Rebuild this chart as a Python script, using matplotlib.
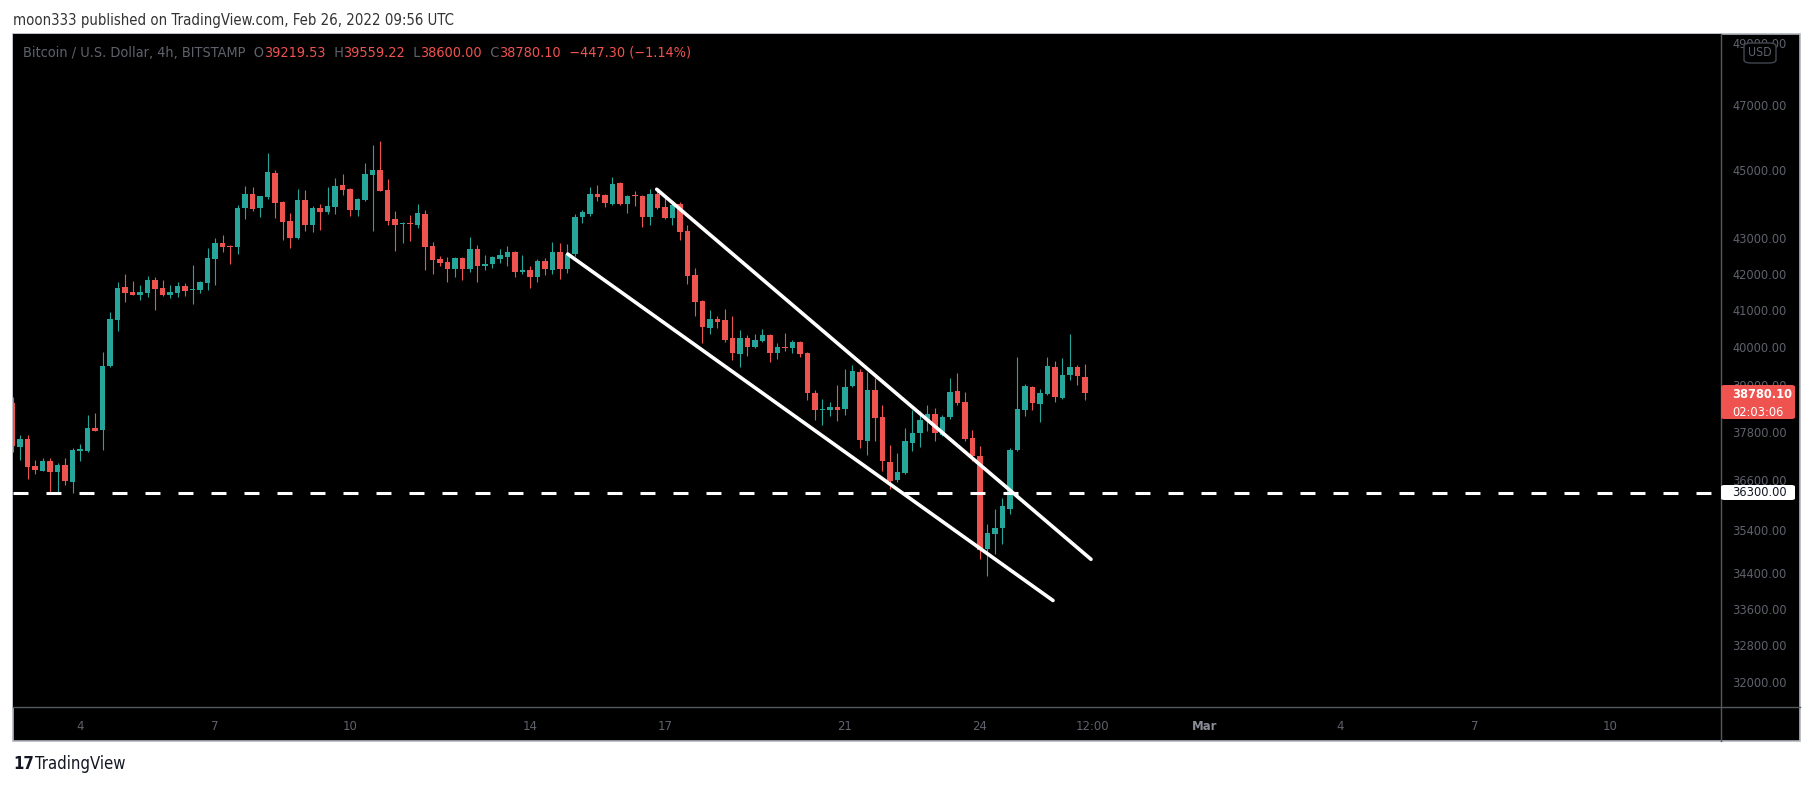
import numpy as np
import pandas as pd
import matplotlib
matplotlib.use('Agg')
import matplotlib.pyplot as plt
import matplotlib.dates as mdates
from matplotlib.patches import Rectangle, FancyBboxPatch
from matplotlib.lines import Line2D
from matplotlib.ticker import NullLocator, FixedLocator
from matplotlib import font_manager

# BTC/USD 4h candles, Feb 2 12:00 .. Feb 26 08:00 (BITSTAMP)
opens = [38535, 37428, 37620, 36950, 36834, 37073, 36809, 36975, 36565, 37320,
         37321, 37898, 37847, 39497, 40727, 41631, 41493, 41410, 41465, 41827,
         41603, 41410, 41465, 41659, 41548, 41548, 41743, 42417, 42871, 42785,
         42757, 43883, 44297, 43883, 44208, 44920, 44061, 43506, 43000, 44120,
         43399, 43883, 43766, 43913, 44563, 44444, 43825, 44120, 44859, 45008,
         44415, 43564, 43420, 43440, 43390, 43708, 42785, 42417, 42331, 42135,
         42445, 42135, 42700, 42219, 42275, 42417, 42474, 42614, 42051, 42107,
         41911, 42360, 42107, 42614, 42135, 42557, 43622, 43708, 44297, 44268,
         44002, 44622, 44002, 44258, 44238, 43622, 44297, 43913, 43593, 44002,
         43216, 41970, 41245, 40511, 40754, 40727, 40240, 39813, 40240, 40000,
         40160, 40322, 39840, 40000, 39973, 40134, 39840, 38793, 38355, 38355,
         38432, 38380, 38973, 39340, 37570, 38870, 38177, 37049, 36606, 36778,
         37520, 37772, 38100, 38253, 37722, 38177, 38844, 38560, 37645, 37197,
         34960, 35312, 35453, 35905, 37346, 38355, 38947, 38509, 38767, 39470,
         38664, 39260, 39470, 39219.53]
highs = [38700, 37720, 37720, 37098, 37148, 37148, 37024, 37148, 37396, 37495,
         38227, 38278, 39867, 40945, 41771, 42000, 41799, 41687, 41940, 41911,
         41827, 41687, 41771, 41743, 42247, 41799, 42728, 43000, 43086, 42814,
         43972, 44533, 44503, 44250, 45522, 45008, 44090, 43738, 44444, 44415,
         43943, 44002, 44503, 44770, 44889, 44460, 44179, 45221, 45766, 45889,
         44740, 43796, 43477, 43680, 44002, 43825, 42900, 42500, 42474, 42474,
         42474, 43029, 42814, 42530, 42500, 42700, 42785, 42630, 42530, 42219,
         42417, 42445, 42900, 42871, 42843, 43708, 43825, 44503, 44563, 44297,
         44800, 44650, 44268, 44385, 44268, 44444, 44415, 44238, 44032, 44061,
         43390, 42163, 41260, 41000, 40837, 41027, 40837, 40457, 40322, 40349,
         40484, 40349, 40107, 40376, 40187, 40160, 39867, 38870, 38637, 38560,
         39000, 39418, 39523, 39418, 39340, 39182, 38483, 37470, 37271, 37897,
         38355, 38330, 38483, 38406, 38227, 39182, 39313, 38818, 37847, 37445,
         35549, 35905, 36170, 37396, 39735, 39025, 38973, 38896, 39735, 39628,
         39708, 40349, 39523, 39559.22]
lows = [37300, 37105, 36638, 36753, 36830, 36322, 36266, 36492, 36298, 37080,
        37296, 37810, 37346, 39480, 40430, 41218, 41400, 41273, 41355, 41000,
        41383, 41328, 41355, 41383, 41163, 41465, 41548, 41687, 42614, 42275,
        42557, 43564, 43796, 43622, 44150, 43593, 42957, 42728, 42980, 43216,
        43197, 43245, 43708, 43708, 44268, 43651, 43651, 44100, 43216, 44370,
        43390, 42643, 42871, 42928, 43303, 42107, 42000, 42219, 41771, 41911,
        41827, 42051, 41771, 42107, 42163, 42303, 42219, 41911, 42000, 41603,
        41771, 41970, 42000, 41855, 42023, 42500, 43448, 43651, 44090, 43913,
        43972, 43972, 43738, 43943, 43332, 43390, 43850, 43560, 43390, 42957,
        41715, 40837, 40107, 40349, 40511, 40134, 39655, 39470, 39760, 39973,
        40134, 39602, 39680, 39893, 39840, 39734, 38612, 38100, 37980, 38202,
        38075, 38227, 38950, 37396, 37222, 37570, 36827, 36387, 36557, 36750,
        37321, 37420, 37822, 37570, 37697, 38125, 38483, 37570, 37073, 34728,
        34336, 34844, 35077, 35786, 37320, 38202, 38355, 38050, 38741, 38560,
        38640, 39130, 39000, 38600.00]
closes = [37453, 37620, 36933, 36858, 37073, 36809, 36975, 36589, 37346, 37370,
          37898, 37822, 39497, 40754, 41603, 41465, 41410, 41493, 41827, 41576,
          41410, 41493, 41659, 41520, 41560, 41771, 42445, 42871, 42757, 42757,
          43883, 44297, 43854, 44238, 44950, 44032, 43477, 43000, 44120, 43399,
          43883, 43766, 43943, 44533, 44415, 43825, 44150, 44889, 45008, 44385,
          43506, 43390, 43450, 43415, 43738, 42757, 42388, 42303, 42135, 42445,
          42135, 42700, 42219, 42275, 42474, 42530, 42614, 42051, 42107, 41911,
          42360, 42135, 42614, 42135, 42557, 43622, 43766, 44297, 44208, 44032,
          44592, 44002, 44238, 44228, 43622, 44297, 43883, 43593, 43972, 43188,
          41940, 41218, 40538, 40754, 40672, 40187, 39840, 40240, 40000, 40187,
          40322, 39840, 40000, 39973, 40134, 39813, 38793, 38355, 38380, 38432,
          38355, 38947, 39365, 37595, 38870, 38151, 37073, 36581, 36802, 37570,
          37772, 38100, 38253, 37772, 38177, 38818, 38535, 37620, 37197, 34937,
          35336, 35453, 35977, 37346, 38380, 38973, 38535, 38793, 39497, 38690,
          39260, 39470, 39234, 38780.10]

price_ticks = [49000, 47000, 45000, 43000, 42000, 41000, 40000, 39000, 37800,
               36600, 35400, 34400, 33600, 32800, 32000]
time_ticks = ['2022-02-04 00:00', '2022-02-07 00:00', '2022-02-10 00:00', '2022-02-14 00:00',
              '2022-02-17 00:00', '2022-02-21 00:00', '2022-02-24 00:00', '2022-02-26 12:00',
              '2022-03-01 00:00', '2022-03-04 00:00', '2022-03-07 00:00', '2022-03-10 00:00']
time_labels = ['4', '7', '10', '14', '17', '21', '24', '12:00', 'Mar', '4', '7', '10']

support_level = 36300
upper_line = (['2022-02-16 19:35', '2022-02-26 11:12'], [44434, 34721])
lower_line = (['2022-02-14 20:07', '2022-02-25 14:56'], [42558, 33780])

W, H = 1813, 786
UP, DOWN = '#26a69a', '#ef5350'
GRAY = '#5f626c'

avail = {f.name for f in font_manager.fontManager.ttflist}
FONT = ['Liberation Sans Narrow', 'DejaVu Sans'] if 'Liberation Sans Narrow' in avail else ['DejaVu Sans']
plt.rcParams['font.family'] = FONT
plt.rcParams['font.stretch'] = 'condensed'


def fx(px):
    return px / W


def fy(py):
    return 1 - py / H


def dnum(strings):
    return mdates.date2num(pd.to_datetime(strings, format='%Y-%m-%d %H:%M').to_pydatetime())


fig = plt.figure(figsize=(W / 100, H / 100), dpi=100, facecolor='white')

# black panel behind everything
fig.patches.append(Rectangle((fx(13), fy(741)), fx(1800) - fx(13), fy(34) - fy(741),
                             transform=fig.transFigure, facecolor='black',
                             edgecolor='#b2b5be', lw=1.2, zorder=-1))

ax = fig.add_axes([fx(13), fy(707), fx(1721) - fx(13), fy(34) - fy(707)])
ax.set_facecolor('black')
for s in ax.spines.values():
    s.set_visible(False)

t = mdates.date2num(pd.date_range('2022-02-02 12:00', periods=len(opens), freq='4h').to_pydatetime())
o = np.array(opens)
c = np.array(closes)
hi = np.array(highs)
lo = np.array(lows)
col = np.where(c >= o, UP, DOWN)

ax.set_yscale('log')
ax.vlines(t, lo, hi, colors=col, lw=0.8, zorder=2)
bot = np.minimum(o, c)
top = np.maximum(o, c)
top = np.maximum(top, bot * 1.0008)
ax.bar(t, top - bot, bottom=bot, width=0.115, color=col, lw=0, zorder=3)

ax.axhline(support_level, color='white', lw=2.2, ls=(0, (4.9, 5.9)), zorder=4)
for xs, ys in (upper_line, lower_line):
    ax.plot(dnum(xs), ys, color='white', lw=2.6, solid_capstyle='round', zorder=5)

base = mdates.date2num(pd.Timestamp('2022-02-01').to_pydatetime()) - 1
ax.set_xlim(base + 2.511, base + 40.467)
ax.set_ylim(31465, 49280)

ax.yaxis.tick_right()
ax.yaxis.set_major_locator(FixedLocator(price_ticks))
ax.yaxis.set_minor_locator(NullLocator())
ax.set_yticklabels(['%.2f' % v for v in price_ticks])
ax.tick_params(axis='y', length=0, pad=8, labelsize=9.2, labelcolor=GRAY)

ax.set_xticks(dnum(time_ticks))
ax.set_xticklabels(time_labels)
ax.xaxis.set_minor_locator(NullLocator())
ax.tick_params(axis='x', length=0, pad=9, labelsize=9.4, labelcolor=GRAY)
ax.get_xticklabels()[8].set_color('#8a8d97')
ax.get_xticklabels()[8].set_fontweight('bold')

# axis separators
fig.lines.append(Line2D([fx(1721), fx(1721)], [fy(34), fy(741)], transform=fig.transFigure,
                        color='#55585f', lw=1, zorder=1))
fig.lines.append(Line2D([fx(13), fx(1800)], [fy(707), fy(707)], transform=fig.transFigure,
                        color='#55585f', lw=1, zorder=1))

# price labels on the scale
fig.patches.append(FancyBboxPatch((fx(1721), fy(419)), fx(1795) - fx(1721), fy(385) - fy(419),
                                  boxstyle='round,pad=0,rounding_size=0.002',
                                  transform=fig.transFigure, facecolor=DOWN, lw=0, zorder=2))
fig.text(fx(1732), fy(395), '%.2f' % closes[-1], color='white', fontsize=9.2,
         fontweight='semibold', va='center', ha='left', zorder=3)
fig.text(fx(1732), fy(412), '02:03:06', color='white', fontsize=9.2, va='center',
         ha='left', zorder=3)
fig.patches.append(FancyBboxPatch((fx(1721), fy(500)), fx(1795) - fx(1721), fy(485) - fy(500),
                                  boxstyle='round,pad=0,rounding_size=0.002',
                                  transform=fig.transFigure, facecolor='white', lw=0, zorder=2))
fig.text(fx(1732), fy(492.5), '%.2f' % support_level, color='#131722', fontsize=9.2,
         va='center', ha='left', zorder=3)
fig.patches.append(FancyBboxPatch((fx(1744), fy(63)), fx(1776) - fx(1744), fy(43) - fy(63),
                                  boxstyle='round,pad=0,rounding_size=0.004',
                                  transform=fig.transFigure, facecolor='black',
                                  edgecolor='#434651', lw=1, zorder=2))
fig.text(fx(1760), fy(53), 'USD', color=GRAY, fontsize=8.8, va='center', ha='center', zorder=3)

# header and legend
fig.text(fx(13), fy(20), 'moon333 published on TradingView.com, Feb 26, 2022 09:56 UTC',
         color='#333333', fontsize=10.7, va='center', ha='left')

renderer = fig.canvas.get_renderer()
pieces = [('Bitcoin / U.S. Dollar, 4h, BITSTAMP  O', GRAY), ('%.2f' % opens[-1], DOWN),
          ('  H', GRAY), ('%.2f' % highs[-1], DOWN), ('  L', GRAY), ('%.2f' % lows[-1], DOWN),
          ('  C', GRAY), ('%.2f' % closes[-1], DOWN),
          ('  \u2212447.30 (\u22121.14%)', DOWN)]
xpos = fx(23)
for txt, cc in pieces:
    tt = fig.text(xpos, fy(53), txt, color=cc, fontsize=10.4, va='center', ha='left')
    bb = tt.get_window_extent(renderer)
    xpos += bb.width / W

fig.text(fx(13), fy(764), '17', color='#131722', fontsize=12, fontweight='bold',
         va='center', ha='left', family=['DejaVu Sans'])
fig.text(fx(35), fy(764), 'TradingView', color='#131722', fontsize=12,
         va='center', ha='left')

fig.savefig('out.png', dpi=100, facecolor='white')
